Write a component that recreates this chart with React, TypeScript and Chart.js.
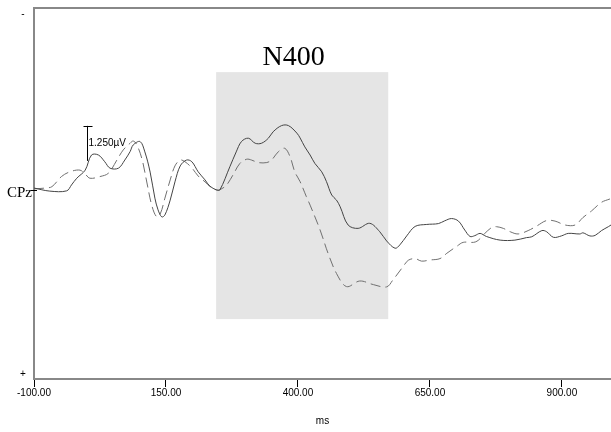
import React, { useEffect, useRef } from "react";
import { Chart, registerables } from "chart.js";

Chart.register(...registerables);

// ---------- data ----------
const X_TICKS = [-100, 150, 400, 650, 900];
const X_MIN = -100;
const X_MAX = 993;
const Y_MIN = -6.5; // top (negative up)
const Y_MAX = 6.75; // bottom

const SOLID_MS = [-100, -70, -38, -29, -19, -3, 9, 22, 34, 44, 60, 72, 82, 88, 101, 110, 120, 129, 135, 142, 148, 158, 167, 177, 189, 199, 211, 224, 233, 246, 252, 271, 283, 293, 306, 319, 331, 344, 353, 369, 382, 398, 404, 413, 423, 432, 445, 454, 464, 473, 480, 495, 514, 536, 555, 568, 584, 593, 606, 622, 644, 666, 678, 691, 704, 716, 726, 735, 745, 757, 783, 811, 833, 843, 862, 871, 884, 899, 912, 934, 940, 953, 963, 975, 988, 993];
const SOLID_UV = [-0.07, 0.04, 0.03, -0.18, -0.42, -0.71, -1.25, -1.25, -1.01, -0.78, -0.78, -1.07, -1.37, -1.61, -1.73, -1.36, -0.64, 0.29, 0.71, 0.96, 0.89, 0.36, -0.29, -0.86, -1.07, -1.01, -0.65, -0.36, -0.14, 0, 0, -0.83, -1.36, -1.73, -1.85, -1.67, -1.67, -1.85, -2.08, -2.3, -2.3, -2.03, -1.86, -1.54, -1.25, -0.95, -0.65, -0.3, 0.18, 0.36, 0.6, 1.25, 1.37, 1.19, 1.49, 1.82, 2.08, 1.96, 1.64, 1.3, 1.23, 1.2, 1.1, 1.02, 1.11, 1.43, 1.66, 1.63, 1.55, 1.66, 1.79, 1.79, 1.7, 1.67, 1.45, 1.49, 1.69, 1.64, 1.55, 1.57, 1.53, 1.64, 1.62, 1.45, 1.31, 1.25];

const DASHED_MS = [-100, -79, -66, -48, -32, -13, -3, 6, 25, 41, 57, 69, 82, 88, 95, 105, 114, 123, 132, 139, 148, 158, 167, 177, 186, 199, 211, 224, 237, 248, 256, 265, 277, 290, 303, 312, 325, 341, 350, 363, 375, 385, 394, 404, 416, 423, 442, 457, 473, 492, 517, 543, 568, 580, 599, 609, 622, 634, 650, 669, 682, 701, 713, 737, 754, 767, 776, 789, 802, 817, 836, 852, 871, 887, 906, 925, 940, 956, 975, 991];
const DASHED_UV = [-0.04, -0.07, -0.12, -0.48, -0.65, -0.71, -0.57, -0.42, -0.48, -0.6, -1.07, -1.43, -1.67, -1.75, -1.61, -1.07, -0.25, 0.54, 0.95, 0.86, 0.29, -0.36, -0.86, -1.07, -1.01, -0.79, -0.5, -0.29, -0.07, 0, -0.05, -0.18, -0.54, -0.95, -1.1, -1.07, -0.98, -0.98, -1.07, -1.37, -1.49, -1.19, -0.65, -0.3, 0.24, 0.54, 1.43, 2.26, 2.98, 3.45, 3.25, 3.38, 3.46, 3.21, 2.74, 2.51, 2.45, 2.54, 2.5, 2.45, 2.26, 2.01, 1.87, 1.85, 1.55, 1.34, 1.31, 1.37, 1.49, 1.57, 1.45, 1.29, 1.09, 1.11, 1.25, 1.25, 0.98, 0.75, 0.44, 0.32];

const WINDOW_MS = [245, 571];
const WINDOW_UV = [-4.21, 4.61];
const WINDOW_LABEL = "N400";
const WINDOW_LABEL_MS = 392;
const CHANNEL = "CPz";
const SCALE_BAR_MS = 0;
const SCALE_BAR_UV = [-2.29, -1.04];
const SCALE_BAR_LABEL = "1.250µV";
const X_TITLE = "ms";

const toPoints = (xs: number[], ys: number[]) => xs.map((x, i) => ({ x, y: ys[i] }));

const decorPlugin = {
  id: "erpDecor",
  beforeDatasetsDraw(chart: any) {
    const { ctx, scales } = chart;
    const x = scales.x, y = scales.y;
    const x0 = x.getPixelForValue(WINDOW_MS[0]);
    const x1 = x.getPixelForValue(WINDOW_MS[1]);
    const y0 = y.getPixelForValue(WINDOW_UV[0]);
    const y1 = y.getPixelForValue(WINDOW_UV[1]);
    ctx.save();
    ctx.fillStyle = "#e5e5e5";
    ctx.fillRect(x0, y0, x1 - x0, y1 - y0);
    ctx.restore();
  },
  afterDatasetsDraw(chart: any) {
    const { ctx, scales, chartArea } = chart;
    const x = scales.x, y = scales.y;
    ctx.save();
    // top border
    ctx.strokeStyle = "#888";
    ctx.lineWidth = 2;
    ctx.beginPath();
    ctx.moveTo(chartArea.left, chartArea.top);
    ctx.lineTo(chartArea.right, chartArea.top);
    ctx.stroke();

    // window label
    ctx.fillStyle = "#000";
    ctx.font = "28px 'Liberation Serif', 'Times New Roman', serif";
    ctx.textAlign = "center";
    ctx.textBaseline = "alphabetic";
    ctx.fillText(WINDOW_LABEL, x.getPixelForValue(WINDOW_LABEL_MS), y.getPixelForValue(WINDOW_UV[0]) - 7);

    // scale bar
    const sx = Math.round(x.getPixelForValue(SCALE_BAR_MS)) + 0.5;
    const sy0 = y.getPixelForValue(SCALE_BAR_UV[0]);
    const sy1 = y.getPixelForValue(SCALE_BAR_UV[1]);
    ctx.strokeStyle = "#000";
    ctx.lineWidth = 1;
    ctx.beginPath();
    ctx.moveTo(sx, sy0);
    ctx.lineTo(sx, sy1);
    ctx.moveTo(sx - 4, Math.round(sy0) + 0.5);
    ctx.lineTo(sx + 5, Math.round(sy0) + 0.5);
    ctx.stroke();
    ctx.font = "10px 'Liberation Sans', Arial, sans-serif";
    ctx.textAlign = "left";
    ctx.textBaseline = "middle";
    ctx.fillStyle = "#000";
    ctx.fillText(SCALE_BAR_LABEL, sx + 1, (sy0 + sy1) / 2);

    // channel label
    const by = y.getPixelForValue(0);
    ctx.font = "15px 'Liberation Serif', 'Times New Roman', serif";
    ctx.textAlign = "right";
    ctx.textBaseline = "middle";
    ctx.fillText(CHANNEL, chartArea.left - 2, by + 3);
    ctx.beginPath();
    ctx.moveTo(chartArea.left - 3, Math.round(by) + 0.5);
    ctx.lineTo(chartArea.left + 3, Math.round(by) + 0.5);
    ctx.stroke();

    // polarity marks
    ctx.font = "10px 'Liberation Sans', Arial, sans-serif";
    ctx.textAlign = "center";
    ctx.fillText("-", chartArea.left - 11, chartArea.top + 6);
    ctx.fillText("+", chartArea.left - 11, chartArea.bottom - 5);
    ctx.restore();
  },
};

export default function App() {
  const ref = useRef<HTMLCanvasElement | null>(null);
  useEffect(() => {
    if (!ref.current) return;
    const chart = new Chart(ref.current, {
      type: "line",
      data: {
        datasets: [
          {
            label: "solid",
            data: toPoints(SOLID_MS, SOLID_UV),
            borderColor: "#444",
            borderWidth: 1,
            pointRadius: 0,
            tension: 0.35,
            fill: false,
          },
          {
            label: "dashed",
            data: toPoints(DASHED_MS, DASHED_UV),
            borderColor: "#707070",
            borderWidth: 1,
            borderDash: [10, 5],
            pointRadius: 0,
            tension: 0.35,
            fill: false,
          },
        ],
      },
      options: {
        responsive: false,
        animation: false,
        events: [],
        layout: { padding: { left: 34, top: 8, right: 0, bottom: 5 } },
        plugins: { legend: { display: false }, tooltip: { enabled: false } },
        scales: {
          x: {
            type: "linear",
            min: X_MIN,
            max: X_MAX,
            afterBuildTicks: (scale: any) => {
              scale.ticks = X_TICKS.map((v) => ({ value: v }));
            },
            ticks: {
              autoSkip: false,
              maxRotation: 0,
              color: "#000",
              padding: 0,
              font: { family: "'Liberation Sans', Arial, sans-serif", size: 10 },
              callback: (v: any) => Number(v).toFixed(2),
            },
            grid: { display: true, drawOnChartArea: false, drawTicks: true, tickLength: 8, color: "#000", lineWidth: 1 },
            border: { display: true, color: "#888", width: 2 },
            title: {
              display: true,
              text: X_TITLE,
              color: "#000",
              font: { family: "'Liberation Sans', Arial, sans-serif", size: 10 },
              padding: { top: 16, bottom: 0 },
            },
          },
          y: {
            type: "linear",
            reverse: true,
            min: Y_MIN,
            max: Y_MAX,
            ticks: { display: false },
            grid: { display: false, drawTicks: false },
            border: { display: true, color: "#888", width: 2 },
          },
        },
      },
      plugins: [decorPlugin],
    } as any);
    return () => chart.destroy();
  }, []);
  return (
    <div style={{ position: "fixed", left: 0, top: 0, width: 611, height: 432, background: "#fff" }}>
      <canvas ref={ref} width={611} height={432} style={{ display: "block", width: 611, height: 432 }} />
    </div>
  );
}
